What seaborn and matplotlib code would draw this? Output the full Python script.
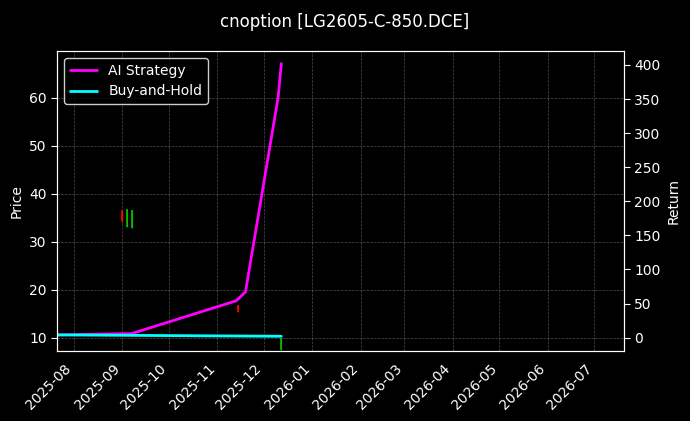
import matplotlib
matplotlib.use("Agg")
import matplotlib.pyplot as plt
import matplotlib.dates as mdates
import seaborn as sb
import pandas as pd

# candles
candle_dates = ["2025-08-27", "2025-09-01", "2025-09-04", "2025-09-07",
                "2025-11-14", "2025-11-18", "2025-12-12"]
candle_open = [37.5, 36.6, 33.1, 32.9, 16.8, 16.6, 7.4]
candle_close = [37.4, 34.2, 36.7, 36.6, 15.4, 16.5, 9.9]
candle_high = [37.5, 36.6, 36.7, 36.6, 16.8, 16.6, 9.9]
candle_low = [37.4, 33.8, 33.1, 32.9, 15.4, 16.5, 7.4]

strat_dates = ["2025-07-21", "2025-09-07", "2025-11-13", "2025-11-19",
               "2025-12-10", "2025-12-12"]
strat_ret = [4, 6, 54, 67, 353, 402]
bh_dates = ["2025-07-21", "2025-12-12"]
bh_ret = [4, 2]

sb.set_style("dark")
plt.rcParams['font.family'] = ['DejaVu Sans']
fig = plt.figure(figsize=(6.9, 4.21), dpi=100, facecolor="black")
ax = fig.add_axes([57 / 690, 1 - 351 / 421, 567 / 690, 300 / 421])
ax.set_facecolor("black")
ax2 = ax.twinx()

cd = pd.to_datetime(candle_dates)
for d, o, c, h, l in zip(cd, candle_open, candle_close, candle_high, candle_low):
    col = "#00c000" if c >= o else "red"
    ax.vlines(d, l, h, color=col, lw=0.8)
    ax.vlines(d, min(o, c), max(o, c), color=col, lw=1.2)

sb.lineplot(x=pd.to_datetime(strat_dates), y=strat_ret, ax=ax2, color="magenta", lw=2, label="AI Strategy", legend=False)
sb.lineplot(x=pd.to_datetime(bh_dates), y=bh_ret, ax=ax2, color="cyan", lw=2, label="Buy-and-Hold", legend=False)

ax.set_ylim(7.2, 69.7)
ax2.set_ylim(-19.6, 420.5)
ax.set_xlim(pd.Timestamp("2025-07-21"), pd.Timestamp("2026-07-20"))
ax.xaxis.set_major_locator(mdates.MonthLocator())
ax.xaxis.set_major_formatter(mdates.DateFormatter("%Y-%m"))
for lab in ax.get_xticklabels():
    lab.set_rotation(45)
    lab.set_ha("right")

ax.grid(True, color="gray", ls="--", lw=0.5, alpha=0.6)
for a in (ax, ax2):
    a.tick_params(colors="white", labelsize=10, length=4)
    for s in a.spines.values():
        s.set_color("white")
ax.set_ylabel("Price", color="white")
ax2.set_ylabel("Return", color="white")
fig.suptitle("cnoption [LG2605-C-850.DCE]", color="white", fontsize=12, y=0.97)

h, l = ax2.get_legend_handles_labels()
leg = ax.legend(h, l, loc="upper left", facecolor="black", edgecolor="white", labelcolor="white", fontsize=10)

fig.savefig("out.png", facecolor="black")
